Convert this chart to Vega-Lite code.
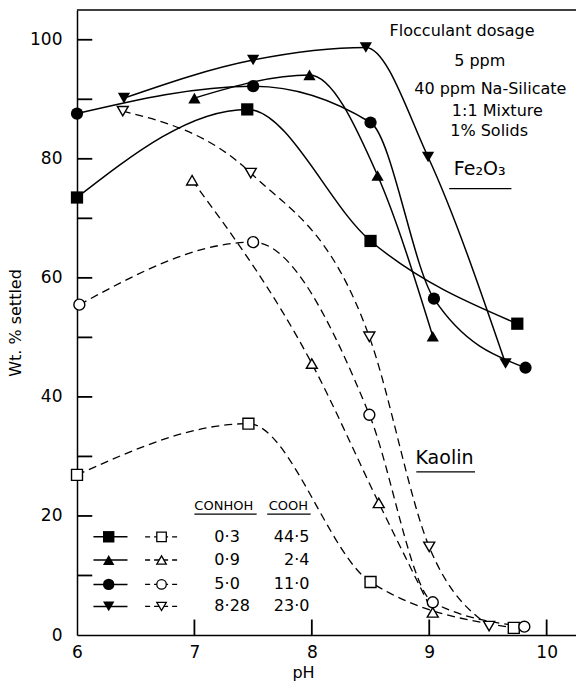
{
  "$schema": "https://vega.github.io/schema/vega-lite/v6.json",
  "width": 499,
  "height": 625,
  "autosize": {"type": "none"},
  "padding": {"left": 77, "top": 10, "right": 0, "bottom": 57},
  "background": "white",
  "config": {
    "view": {"stroke": null},
    "font": "DejaVu Sans",
    "text": {"font": "DejaVu Sans", "color": "black"}
  },
  "datasets": {
    "curves": [
      {"m": "Fe2O3", "s": "0.3", "pH": 6.0, "wt": 73.5},
      {"m": "Fe2O3", "s": "0.3", "pH": 7.45, "wt": 88.3},
      {"m": "Fe2O3", "s": "0.3", "pH": 8.5, "wt": 66.2},
      {"m": "Fe2O3", "s": "0.3", "pH": 9.75, "wt": 52.3},
      {"m": "Fe2O3", "s": "0.9", "pH": 7.0, "wt": 90.2},
      {"m": "Fe2O3", "s": "0.9", "pH": 7.98, "wt": 94.1},
      {"m": "Fe2O3", "s": "0.9", "pH": 8.56, "wt": 77.2},
      {"m": "Fe2O3", "s": "0.9", "pH": 9.03, "wt": 50.2},
      {"m": "Fe2O3", "s": "5.0", "pH": 6.0, "wt": 87.6},
      {"m": "Fe2O3", "s": "5.0", "pH": 7.5, "wt": 92.2},
      {"m": "Fe2O3", "s": "5.0", "pH": 8.5, "wt": 86.1},
      {"m": "Fe2O3", "s": "5.0", "pH": 9.04, "wt": 56.5},
      {"m": "Fe2O3", "s": "5.0", "pH": 9.82, "wt": 44.9},
      {"m": "Fe2O3", "s": "8.28", "pH": 6.4, "wt": 90.2},
      {"m": "Fe2O3", "s": "8.28", "pH": 7.5, "wt": 96.6},
      {"m": "Fe2O3", "s": "8.28", "pH": 8.46, "wt": 98.7},
      {"m": "Fe2O3", "s": "8.28", "pH": 8.99, "wt": 80.3},
      {"m": "Fe2O3", "s": "8.28", "pH": 9.65, "wt": 45.6},
      {"m": "Kaolin", "s": "0.3", "pH": 6.0, "wt": 26.9},
      {"m": "Kaolin", "s": "0.3", "pH": 7.46, "wt": 35.5},
      {"m": "Kaolin", "s": "0.3", "pH": 8.5, "wt": 8.9},
      {"m": "Kaolin", "s": "0.3", "pH": 9.72, "wt": 1.2},
      {"m": "Kaolin", "s": "0.9", "pH": 6.98, "wt": 76.4},
      {"m": "Kaolin", "s": "0.9", "pH": 8.0, "wt": 45.6},
      {"m": "Kaolin", "s": "0.9", "pH": 8.57, "wt": 22.2},
      {"m": "Kaolin", "s": "0.9", "pH": 9.03, "wt": 3.8},
      {"m": "Kaolin", "s": "5.0", "pH": 6.02, "wt": 55.5},
      {"m": "Kaolin", "s": "5.0", "pH": 7.5, "wt": 66.0},
      {"m": "Kaolin", "s": "5.0", "pH": 8.49, "wt": 37.0},
      {"m": "Kaolin", "s": "5.0", "pH": 9.03, "wt": 5.5},
      {"m": "Kaolin", "s": "5.0", "pH": 9.81, "wt": 1.4},
      {"m": "Kaolin", "s": "8.28", "pH": 6.39, "wt": 88.0},
      {"m": "Kaolin", "s": "8.28", "pH": 7.48, "wt": 77.6},
      {"m": "Kaolin", "s": "8.28", "pH": 8.49, "wt": 50.1},
      {"m": "Kaolin", "s": "8.28", "pH": 9.0, "wt": 14.8},
      {"m": "Kaolin", "s": "8.28", "pH": 9.51, "wt": 1.5}
    ],
    "frameMarks": [
      {"y": 10, "x": 6, "x2": 6.13}, {"y": 20, "x": 6, "x2": 6.13},
      {"y": 30, "x": 6, "x2": 6.13}, {"y": 40, "x": 6, "x2": 6.13},
      {"y": 50, "x": 6, "x2": 6.13}, {"y": 60, "x": 6, "x2": 6.13},
      {"y": 70, "x": 6, "x2": 6.13}, {"y": 80, "x": 6, "x2": 6.13},
      {"y": 90, "x": 6, "x2": 6.13}, {"y": 100, "x": 6, "x2": 6.13}
    ],
    "frameMarksV": [
      {"x": 7, "y": 0, "y2": 2.6}, {"x": 8, "y": 0, "y2": 2.6},
      {"x": 9, "y": 0, "y2": 2.6}, {"x": 10, "y": 0, "y2": 2.6}
    ],
    "frameTop": [{"y": 105}],
    "legendLines": [
      {"m": "Fe2O3", "s": "0.3", "x": 6.14, "y": 16.5},
      {"m": "Fe2O3", "s": "0.3", "x": 6.43, "y": 16.5},
      {"m": "Fe2O3", "s": "0.9", "x": 6.14, "y": 12.6},
      {"m": "Fe2O3", "s": "0.9", "x": 6.43, "y": 12.6},
      {"m": "Fe2O3", "s": "5.0", "x": 6.14, "y": 8.5},
      {"m": "Fe2O3", "s": "5.0", "x": 6.43, "y": 8.5},
      {"m": "Fe2O3", "s": "8.28", "x": 6.14, "y": 4.8},
      {"m": "Fe2O3", "s": "8.28", "x": 6.43, "y": 4.8},
      {"m": "Kaolin", "s": "0.3", "x": 6.58, "y": 16.5},
      {"m": "Kaolin", "s": "0.3", "x": 6.86, "y": 16.5},
      {"m": "Kaolin", "s": "0.9", "x": 6.58, "y": 12.6},
      {"m": "Kaolin", "s": "0.9", "x": 6.86, "y": 12.6},
      {"m": "Kaolin", "s": "5.0", "x": 6.58, "y": 8.5},
      {"m": "Kaolin", "s": "5.0", "x": 6.86, "y": 8.5},
      {"m": "Kaolin", "s": "8.28", "x": 6.58, "y": 4.8},
      {"m": "Kaolin", "s": "8.28", "x": 6.86, "y": 4.8}
    ],
    "legendPts": [
      {"m": "Fe2O3", "s": "0.3", "x": 6.27, "y": 16.5},
      {"m": "Fe2O3", "s": "0.9", "x": 6.27, "y": 12.6},
      {"m": "Fe2O3", "s": "5.0", "x": 6.27, "y": 8.5},
      {"m": "Fe2O3", "s": "8.28", "x": 6.27, "y": 4.8},
      {"m": "Kaolin", "s": "0.3", "x": 6.72, "y": 16.5},
      {"m": "Kaolin", "s": "0.9", "x": 6.72, "y": 12.6},
      {"m": "Kaolin", "s": "5.0", "x": 6.72, "y": 8.5},
      {"m": "Kaolin", "s": "8.28", "x": 6.72, "y": 4.8}
    ],
    "conhoh": [
      {"t": "0·3", "x": 7.17, "y": 16.5},
      {"t": "0·9", "x": 7.17, "y": 12.6},
      {"t": "5·0", "x": 7.17, "y": 8.5},
      {"t": "8·28", "x": 7.17, "y": 4.8}
    ],
    "cooh": [
      {"t": "44·5", "x": 7.98, "y": 16.5},
      {"t": "2·4", "x": 7.98, "y": 12.6},
      {"t": "11·0", "x": 7.98, "y": 8.5},
      {"t": "23·0", "x": 7.98, "y": 4.8}
    ],
    "heads": [
      {"t": "CONHOH", "x": 7.25, "y": 21.6},
      {"t": "COOH", "x": 7.8, "y": 21.6}
    ],
    "notes": [
      {"t": "Flocculant dosage", "x": 9.28, "y": 101.5},
      {"t": "5 ppm", "x": 9.43, "y": 96.5},
      {"t": "40 ppm Na-Silicate", "x": 9.52, "y": 91.8},
      {"t": "1:1 Mixture", "x": 9.58, "y": 88.1},
      {"t": "1% Solids", "x": 9.51, "y": 84.7}
    ],
    "names": [
      {"t": "Fe₂O₃", "x": 9.43, "y": 78.3},
      {"t": "Kaolin", "x": 9.13, "y": 29.8}
    ],
    "underlines": [
      {"x": 9.17, "x2": 9.7, "y": 75.0},
      {"x": 8.89, "x2": 9.39, "y": 27.4},
      {"x": 7.0, "x2": 7.53, "y": 20.3},
      {"x": 7.62, "x2": 7.99, "y": 20.3}
    ]
  },
  "layer": [
    {
      "data": {"name": "curves"},
      "transform": [{"filter": "datum.m == 'Fe2O3'"}],
      "mark": {"type": "line", "interpolate": "monotone", "color": "black", "strokeWidth": 1.5},
      "encoding": {
        "x": {
          "field": "pH", "type": "quantitative",
          "scale": {"domain": [6, 10.25], "nice": false, "zero": false},
          "axis": {
            "values": [6, 7, 8, 9, 10], "format": "d", "ticks": false, "tickSize": 0, "labelPadding": 9,
            "labelFontSize": 17, "labelColor": "black", "labelFont": "DejaVu Sans",
            "title": "pH", "titleFontSize": 16, "titleFontWeight": "normal", "titleColor": "black",
            "titleFont": "DejaVu Sans", "titleX": 226, "titlePadding": 4,
            "grid": false, "domainColor": "black", "domainWidth": 1.5, "labelFlush": false
          }
        },
        "y": {
          "field": "wt", "type": "quantitative",
          "scale": {"domain": [0, 105], "nice": false},
          "axis": {
            "values": [0, 20, 40, 60, 80, 100], "ticks": false, "tickSize": 0,
            "labelPadding": 15, "labelFontSize": 17, "labelColor": "black", "labelFont": "DejaVu Sans",
            "title": "Wt. % settled", "titleFontSize": 16, "titleFontWeight": "normal",
            "titleColor": "black", "titleFont": "DejaVu Sans", "titlePadding": 6,
            "grid": false, "domainColor": "black", "domainWidth": 1.5
          }
        },
        "detail": {"field": "s"}
      }
    },
    {
      "data": {"name": "frameTop"},
      "mark": {"type": "rule", "color": "black", "strokeWidth": 1.5},
      "encoding": {
        "y": {"field": "y", "type": "quantitative"}
      }
    },
    {
      "data": {"name": "curves"},
      "transform": [{"filter": "datum.m == 'Kaolin'"}],
      "mark": {"type": "line", "interpolate": "monotone", "color": "black", "strokeWidth": 1.3, "strokeDash": [8, 5]},
      "encoding": {
        "x": {"field": "pH", "type": "quantitative"},
        "y": {"field": "wt", "type": "quantitative"},
        "detail": {"field": "s"}
      }
    },
    {
      "data": {"name": "legendLines"},
      "transform": [{"filter": "datum.m == 'Fe2O3'"}],
      "mark": {"type": "line", "color": "black", "strokeWidth": 1.5},
      "encoding": {
        "x": {"field": "x", "type": "quantitative"},
        "y": {"field": "y", "type": "quantitative"},
        "detail": {"field": "s"}
      }
    },
    {
      "data": {"name": "legendLines"},
      "transform": [{"filter": "datum.m == 'Kaolin'"}],
      "mark": {"type": "line", "color": "black", "strokeWidth": 1.3, "strokeDash": [5, 4]},
      "encoding": {
        "x": {"field": "x", "type": "quantitative"},
        "y": {"field": "y", "type": "quantitative"},
        "detail": {"field": "s"}
      }
    },
    {
      "data": {"name": "curves"},
      "transform": [{"filter": "datum.m == 'Fe2O3'"}],
      "mark": {"type": "point", "filled": true, "color": "black", "opacity": 1, "size": 150},
      "encoding": {
        "x": {"field": "pH", "type": "quantitative"},
        "y": {"field": "wt", "type": "quantitative"},
        "shape": {"field": "s", "type": "nominal", "legend": null,
          "scale": {"domain": ["0.3", "0.9", "5.0", "8.28"], "range": ["square", "triangle-up", "circle", "triangle-down"]}}
      }
    },
    {
      "data": {"name": "curves"},
      "transform": [{"filter": "datum.m == 'Kaolin'"}],
      "mark": {"type": "point", "filled": true, "fill": "white", "stroke": "black", "strokeWidth": 1.4, "opacity": 1, "size": 120},
      "encoding": {
        "x": {"field": "pH", "type": "quantitative"},
        "y": {"field": "wt", "type": "quantitative"},
        "shape": {"field": "s", "type": "nominal", "legend": null}
      }
    },
    {
      "data": {"name": "legendPts"},
      "transform": [{"filter": "datum.m == 'Fe2O3'"}],
      "mark": {"type": "point", "filled": true, "color": "black", "opacity": 1, "size": 130},
      "encoding": {
        "x": {"field": "x", "type": "quantitative"},
        "y": {"field": "y", "type": "quantitative"},
        "shape": {"field": "s", "type": "nominal", "legend": null}
      }
    },
    {
      "data": {"name": "legendPts"},
      "transform": [{"filter": "datum.m == 'Kaolin'"}],
      "mark": {"type": "point", "filled": true, "fill": "white", "stroke": "black", "strokeWidth": 1.3, "opacity": 1, "size": 90},
      "encoding": {
        "x": {"field": "x", "type": "quantitative"},
        "y": {"field": "y", "type": "quantitative"},
        "shape": {"field": "s", "type": "nominal", "legend": null}
      }
    },
    {
      "data": {"name": "conhoh"},
      "mark": {"type": "text", "align": "left", "baseline": "middle", "fontSize": 16, "color": "black"},
      "encoding": {
        "x": {"field": "x", "type": "quantitative"},
        "y": {"field": "y", "type": "quantitative"},
        "text": {"field": "t"}
      }
    },
    {
      "data": {"name": "cooh"},
      "mark": {"type": "text", "align": "right", "baseline": "middle", "fontSize": 16, "color": "black"},
      "encoding": {
        "x": {"field": "x", "type": "quantitative"},
        "y": {"field": "y", "type": "quantitative"},
        "text": {"field": "t"}
      }
    },
    {
      "data": {"name": "heads"},
      "mark": {"type": "text", "align": "center", "baseline": "middle", "fontSize": 13, "color": "black"},
      "encoding": {
        "x": {"field": "x", "type": "quantitative"},
        "y": {"field": "y", "type": "quantitative"},
        "text": {"field": "t"}
      }
    },
    {
      "data": {"name": "notes"},
      "mark": {"type": "text", "align": "center", "baseline": "middle", "fontSize": 16, "color": "black"},
      "encoding": {
        "x": {"field": "x", "type": "quantitative"},
        "y": {"field": "y", "type": "quantitative"},
        "text": {"field": "t"}
      }
    },
    {
      "data": {"name": "names"},
      "mark": {"type": "text", "align": "center", "baseline": "middle", "fontSize": 19, "color": "black"},
      "encoding": {
        "x": {"field": "x", "type": "quantitative"},
        "y": {"field": "y", "type": "quantitative"},
        "text": {"field": "t"}
      }
    },
    {
      "data": {"name": "underlines"},
      "mark": {"type": "rule", "color": "black", "strokeWidth": 1.3},
      "encoding": {
        "x": {"field": "x", "type": "quantitative"},
        "x2": {"field": "x2"},
        "y": {"field": "y", "type": "quantitative"}
      }
    },
    {
      "data": {"name": "frameMarks"},
      "mark": {"type": "rule", "color": "black", "strokeWidth": 1.8},
      "encoding": {
        "x": {"field": "x", "type": "quantitative"},
        "x2": {"field": "x2"},
        "y": {"field": "y", "type": "quantitative"}
      }
    },
    {
      "data": {"name": "frameMarksV"},
      "mark": {"type": "rule", "color": "black", "strokeWidth": 1.8},
      "encoding": {
        "x": {"field": "x", "type": "quantitative"},
        "y": {"field": "y", "type": "quantitative"},
        "y2": {"field": "y2"}
      }
    }
  ]
}
